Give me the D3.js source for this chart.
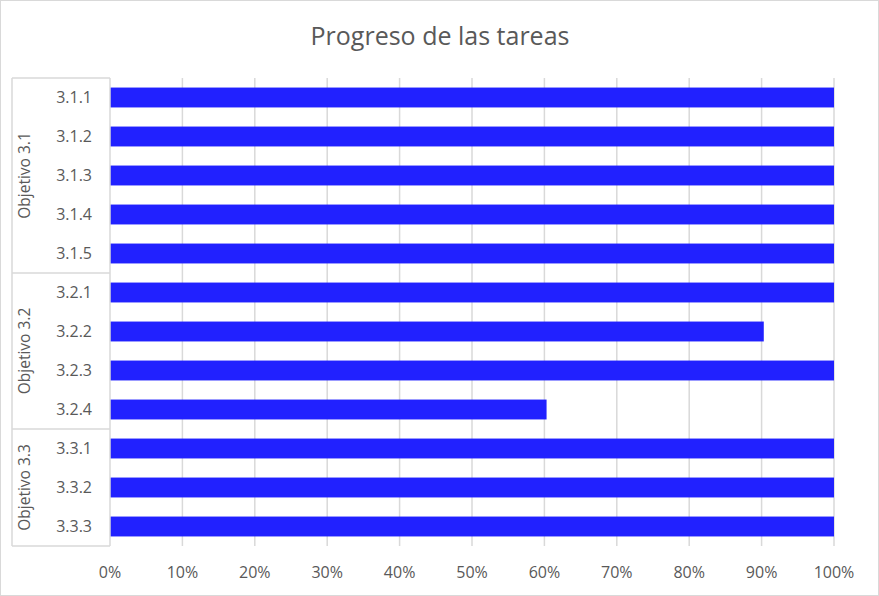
<!DOCTYPE html>
<html><head><meta charset="utf-8">
<script src="https://cdn.jsdelivr.net/npm/d3@7"></script>
<style>body{margin:0;background:#fff}svg{display:block}</style>
</head><body><svg id="c" width="879" height="596"></svg>
<script>
const categories = ["3.1.1","3.1.2","3.1.3","3.1.4","3.1.5","3.2.1","3.2.2","3.2.3","3.2.4","3.3.1","3.3.2","3.3.3"];
const groups = ["Objetivo 3.1","Objetivo 3.1","Objetivo 3.1","Objetivo 3.1","Objetivo 3.1","Objetivo 3.2","Objetivo 3.2","Objetivo 3.2","Objetivo 3.2","Objetivo 3.3","Objetivo 3.3","Objetivo 3.3"];
const values = [1,1,1,1,1,1,0.903,1,0.603,1,1,1];
const xTicks = [0,0.1,0.2,0.3,0.4,0.5,0.6,0.7,0.8,0.9,1.0];
const title = "Progreso de las tareas";

const svg = d3.select("#c");
const font = "'Open Sans', 'Liberation Sans', sans-serif";
const textCol = "#595959", gridCol = "#d9d9d9";
svg.append("rect").attr("x",0.5).attr("y",0.5).attr("width",878).attr("height",595)
  .attr("fill","#fff").attr("stroke","#d9d9d9");

const L = 110, R = 834, T = 78, B = 546;
const x = d3.scaleLinear().domain([0,1]).range([L,R]);
const y = d3.scaleBand().domain(categories.map((c,i)=>i)).range([T,B]).paddingInner(0.49).paddingOuter(0.245);
const yb = d3.scaleBand().domain(categories.map((c,i)=>i)).range([T,B]);

// grid
svg.append("g").selectAll("line").data(xTicks.slice(1)).join("line")
  .attr("x1",d=>x(d)).attr("x2",d=>x(d)).attr("y1",T).attr("y2",B)
  .attr("stroke",gridCol).attr("stroke-width",1.5);

// x tick labels
svg.append("g").selectAll("text").data(xTicks).join("text")
  .attr("x",d=>x(d)).attr("y",578).attr("text-anchor","middle")
  .attr("font-family",font).attr("font-size",16).attr("fill",textCol)
  .text(d=>d3.format(".0%")(d));

// bars
svg.append("g").selectAll("rect").data(values).join("rect")
  .attr("x",x(0)).attr("y",(d,i)=>y(i)).attr("height",y.bandwidth())
  .attr("width",d=>x(d)-x(0)).attr("fill","#2121ff");

// category axis line + group boxes
const g = svg.append("g").attr("stroke",gridCol).attr("stroke-width",1.5).attr("fill","none");
g.append("line").attr("x1",L).attr("x2",L).attr("y1",T).attr("y2",B);
g.append("line").attr("x1",12).attr("x2",12).attr("y1",T).attr("y2",B);
const groupNames = Array.from(new Set(groups));
const groupSpans = groupNames.map(n=>{
  const idx = groups.map((gg,i)=>gg===n?i:-1).filter(i=>i>=0);
  return {name:n, y0: yb(idx[0]), y1: yb(idx[idx.length-1]) + yb.bandwidth()};
});
const bounds = [T].concat(groupSpans.map(s=>s.y1));
g.selectAll("line.h").data(bounds).join("line").attr("class","h")
  .attr("x1",12).attr("x2",L).attr("y1",d=>d).attr("y2",d=>d);

// category labels
svg.append("g").selectAll("text").data(categories).join("text")
  .attr("x",92).attr("y",(d,i)=>yb(i)+yb.bandwidth()/2).attr("dy","0.35em")
  .attr("text-anchor","end").attr("font-family",font).attr("font-size",16).attr("fill",textCol)
  .text(d=>d);

// group labels
svg.append("g").selectAll("text").data(groupSpans).join("text")
  .attr("transform",d=>`translate(25,${(d.y0+d.y1)/2}) rotate(-90)`).attr("dy","0.35em")
  .attr("text-anchor","middle").attr("font-family",font).attr("font-size",15.5).attr("fill",textCol)
  .text(d=>d.name);

svg.append("text").attr("x",440).attr("y",45).attr("text-anchor","middle")
  .attr("font-family",font).attr("font-size",25).attr("fill",textCol).text(title);
</script></body></html>
